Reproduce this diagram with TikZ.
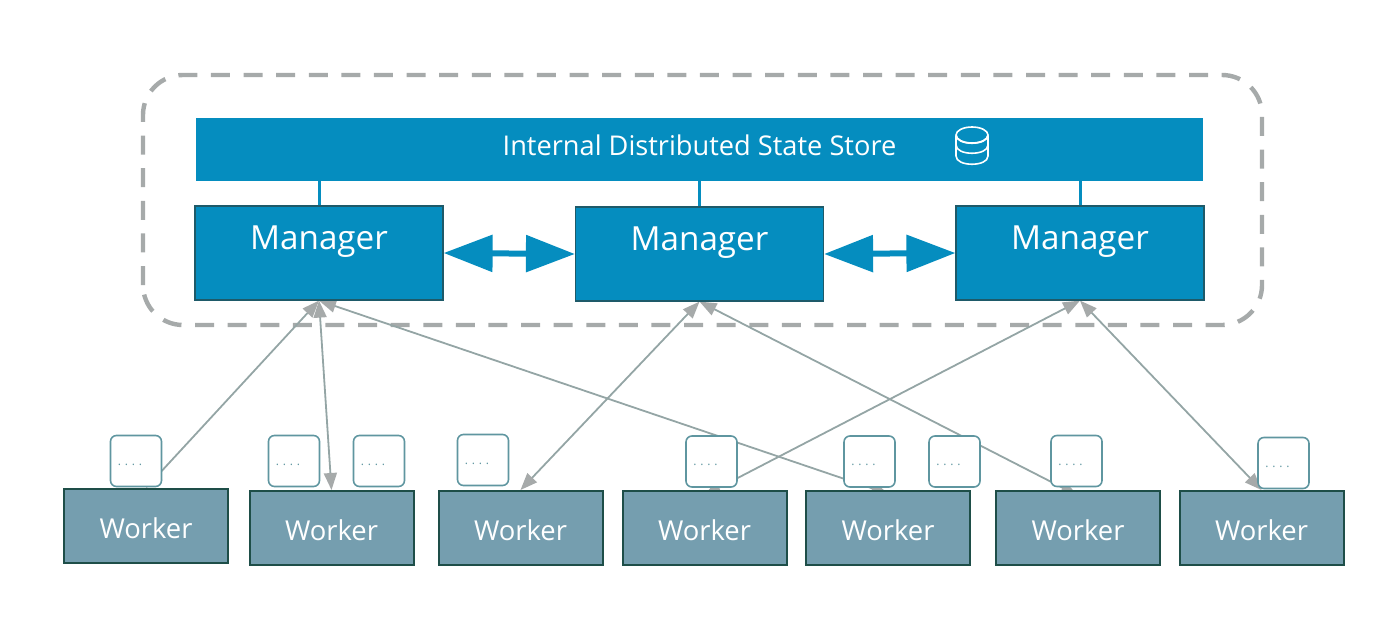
\documentclass[tikz,border=0pt]{standalone}
\usepackage{fontspec}
\usepackage{xcolor}
\setmainfont{Open Sans}
\usetikzlibrary{arrows.meta, positioning, calc}
\definecolor{storeblue}{RGB}{5, 141, 191}
\definecolor{managerline}{RGB}{30, 90, 105}
\definecolor{workerteal}{RGB}{117, 158, 175}
\definecolor{workerline}{RGB}{30, 78, 72}
\definecolor{taskline}{RGB}{95, 150, 160}
\definecolor{linkgrey}{RGB}{148, 165, 165}
\definecolor{headgrey}{RGB}{166, 170, 170}
\pgfdeclarelayer{links}
\pgfsetlayers{links,main}
\tikzset{
  managerbox/.style={draw=managerline, line width=0.6pt, fill=storeblue, text=white, minimum width=124pt, minimum height=47pt, inner sep=0pt, font=\fontsize{16.6}{20}\selectfont, text depth=15pt},
  workerbox/.style={draw=workerline, line width=1pt, fill=workerteal, text=white, minimum width=82pt, minimum height=37pt, inner sep=0pt, font=\fontsize{13.7}{16}\selectfont, text height=12pt, text depth=0pt},
  taskbox/.style={draw=taskline, line width=0.8pt, fill=white, text=taskline, rounded corners=3pt, minimum width=25.5pt, minimum height=25.5pt, inner sep=0pt, font=\fontsize{6}{8}\selectfont, text height=4pt, text depth=0pt},
  syncarrow/.style={storeblue, line width=3pt, {Triangle[length=24.5pt,width=18pt]}-{Triangle[length=24.5pt,width=18pt]}},
  linkarrow/.style={linkgrey, line width=0.9pt, {Triangle[length=8.5pt,width=6.5pt,fill=headgrey,color=headgrey]}-{Triangle[length=8.5pt,width=6.5pt,fill=headgrey,color=headgrey]}},
  hiddenend/.style={shorten >=-6pt},
}
\newcommand{\taskdots}{.\kern1.9pt.\kern1.9pt.\kern1.9pt.\hspace{6pt}\mbox{}}
\begin{document}
\begin{tikzpicture}[x=0.5pt, y=0.5pt]
  \useasboundingbox (0,0) rectangle (1400,617);

  \node[fill=storeblue, text=white, minimum width=503.5pt, minimum height=31.5pt, inner sep=0pt, font=\fontsize{13.6}{18}\selectfont, text depth=4pt] (store) at (699.5,467.5) {Internal Distributed State Store};

  \node[managerbox] (manager1) at (319,364) {Manager};
  \node[managerbox] (manager2) at (699.5,363) {Manager};
  \node[managerbox] (manager3) at (1080,364) {Manager};

  \draw[storeblue, line width=1.5pt] (store.south -| manager1.north) -- (manager1.north);
  \draw[storeblue, line width=1.5pt] (store.south -| manager2.north) -- (manager2.north);
  \draw[storeblue, line width=1.5pt] (store.south -| manager3.north) -- (manager3.north);
  \draw[syncarrow] (manager1.east) -- (manager2.west);
  \draw[syncarrow] (manager2.east) -- (manager3.west);

  % database icon
  \draw[white, line width=0.8pt] (956,481) -- (956,461) .. controls (956,450) and (988,450) .. (988,461) -- (988,481);
  \draw[white, line width=0.8pt] (972,482) ellipse (16 and 8);
  \draw[white, line width=0.8pt] (956,472) .. controls (956,461) and (988,461) .. (988,472);
  \draw[white, line width=0.8pt] (956,482) .. controls (956,471) and (988,471) .. (988,482);

  \node[workerbox] (worker1) at (146,91) {Worker};
  \node[workerbox] (worker2) at (331.5,89) {Worker};
  \node[workerbox] (worker3) at (520.5,89) {Worker};
  \node[workerbox] (worker4) at (704.5,89) {Worker};
  \node[workerbox] (worker5) at (888,89) {Worker};
  \node[workerbox] (worker6) at (1078,89) {Worker};
  \node[workerbox] (worker7) at (1261.5,89) {Worker};

  \begin{pgfonlayer}{links}
    \draw[headgrey, line width=2.2pt, dash pattern=on 9.5pt off 6.8pt, rounded corners=20pt] (143,292) rectangle (1262,542);
    \draw[linkarrow] (manager1.south) -- (worker1.north);
    \draw[linkarrow] (manager1.south) -- (worker2.north);
    \draw[linkarrow, hiddenend] (manager1.south) -- ([xshift=-5.5pt]worker5.north);
    \draw[linkarrow] (manager2.south) -- (worker3.north);
    \draw[linkarrow, hiddenend] (manager2.south) -- ([xshift=-5.5pt]worker6.north);
    \draw[linkarrow, hiddenend] (manager3.south) -- ([xshift=5pt]worker4.north);
    \draw[linkarrow] (manager3.south) -- (worker7.north);
  \end{pgfonlayer}

  \node[taskbox] (task1) at (136,156) {\taskdots};
  \node[taskbox] (task2) at (294,156) {\taskdots};
  \node[taskbox] (task3) at (379,156) {\taskdots};
  \node[taskbox] (task4) at (483,157) {\taskdots};
  \node[taskbox] (task5) at (711.5,155.5) {\taskdots};
  \node[taskbox] (task6) at (869.5,155.5) {\taskdots};
  \node[taskbox] (task7) at (954.5,155.5) {\taskdots};
  \node[taskbox] (task8) at (1076.5,156) {\taskdots};
  \node[taskbox] (task9) at (1283.5,154) {\taskdots};
\end{tikzpicture}
\end{document}
